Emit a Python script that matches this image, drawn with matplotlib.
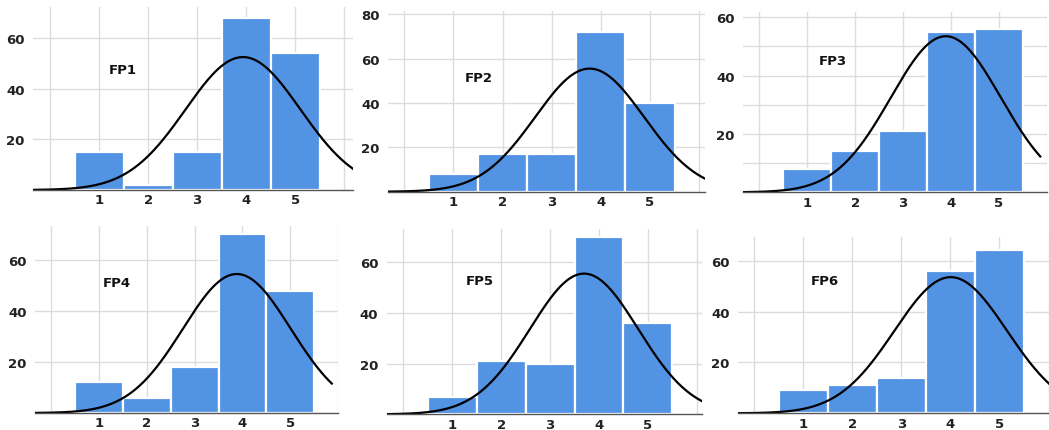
import numpy as np
import matplotlib
matplotlib.use("Agg")
import matplotlib.pyplot as plt

# ---- data ----
categories = [1, 2, 3, 4, 5]
panel_names = ["FP1", "FP2", "FP3", "FP4", "FP5", "FP6"]
fp1 = [15, 2, 15, 68, 54]
fp2 = [8, 17, 17, 72, 40]
fp3 = [8, 14, 21, 55, 56]
fp4 = [12, 6, 18, 70, 48]
fp5 = [7, 21, 20, 70, 36]
fp6 = [9, 11, 14, 56, 64]
series = [fp1, fp2, fp3, fp4, fp5, fp6]
ytick_sets = [[20, 40, 60], [20, 40, 60, 80], [20, 40, 60],
              [20, 40, 60], [20, 40, 60], [20, 40, 60]]

# ---- layout (pixels in a 1049x431 canvas) ----
W, H = 1049, 431
# (left px, right px, top px, baseline px)
boxes = [(33, 353, 8, 191), (388, 705, 12, 192.7), (743, 1047, 13, 193.3),
         (35, 338, 226.7, 414), (386.7, 701.7, 230, 415.3), (738, 1049, 238, 414.3)]
xlims = [(-0.35, 6.18), (-0.33, 6.12), (-0.34, 5.86),
         (-0.34, 5.87), (-0.34, 6.10), (-0.33, 6.01)]
ylims_top = [72.2, 81.4, 61.8, 73.4, 73.1, 69.3]
label_pos = [(1.49, 47.7), (1.51, 51.5), (1.53, 45.1),
             (1.38, 51.3), (1.57, 52.7), (1.44, 52.1)]

bar_color = "#5393E3"
grid_color = "#DCDCDC"

fig = plt.figure(figsize=(W / 100, H / 100), dpi=100)
fig.patch.set_facecolor("white")

for i, vals in enumerate(series):
    l, r, t, b = boxes[i]
    ax = fig.add_axes([l / W, 1 - b / H, (r - l) / W, (b - t) / H])
    ax.set_facecolor("white")
    x = np.array(categories, dtype=float)
    v = np.array(vals, dtype=float)
    ax.bar(x, v, width=1.0, color=bar_color, edgecolor="white",
           linewidth=1.6, zorder=2)
    # fitted normal curve
    n = v.sum()
    mu = (x * v).sum() / n
    sd = np.sqrt(((x - mu) ** 2 * v).sum() / n)
    xs = np.linspace(xlims[i][0], xlims[i][1], 400)
    ys = n / (sd * np.sqrt(2 * np.pi)) * np.exp(-0.5 * ((xs - mu) / sd) ** 2)
    ax.plot(xs, ys, color="black", lw=1.6, zorder=3)

    ax.set_xlim(*xlims[i])
    ax.set_ylim(0, ylims_top[i])
    ax.set_xticks(range(0, 7))
    ax.set_xticklabels(["", "1", "2", "3", "4", "5", ""])
    ax.set_yticks(ytick_sets[i])
    ax.set_yticklabels([str(k) for k in ytick_sets[i]])
    if i == 2:
        ax.set_yticks([10, 30, 50], minor=True)
        ax.grid(True, which="minor", axis="y", color=grid_color, lw=1.0, zorder=0)
    ax.grid(True, which="major", color=grid_color, lw=1.0, zorder=0)
    ax.tick_params(axis="both", which="both", length=0)
    ax.tick_params(axis="y", pad=6)
    ax.tick_params(axis="x", pad=2.5)
    for lab in ax.get_xticklabels() + ax.get_yticklabels():
        lab.set_fontweight("bold")
        lab.set_fontsize(9.5)
        lab.set_color("#222222")
    for s in ["left", "right", "top"]:
        ax.spines[s].set_visible(False)
    ax.spines["bottom"].set_color("#555555")
    ax.spines["bottom"].set_linewidth(1.0)
    ax.spines["bottom"].set_zorder(4)
    ax.text(label_pos[i][0], label_pos[i][1], panel_names[i], ha="center",
            va="center", fontsize=9.5, fontweight="bold", color="#111111",
            zorder=5)

fig.savefig("out.png", dpi=100, facecolor="white")
